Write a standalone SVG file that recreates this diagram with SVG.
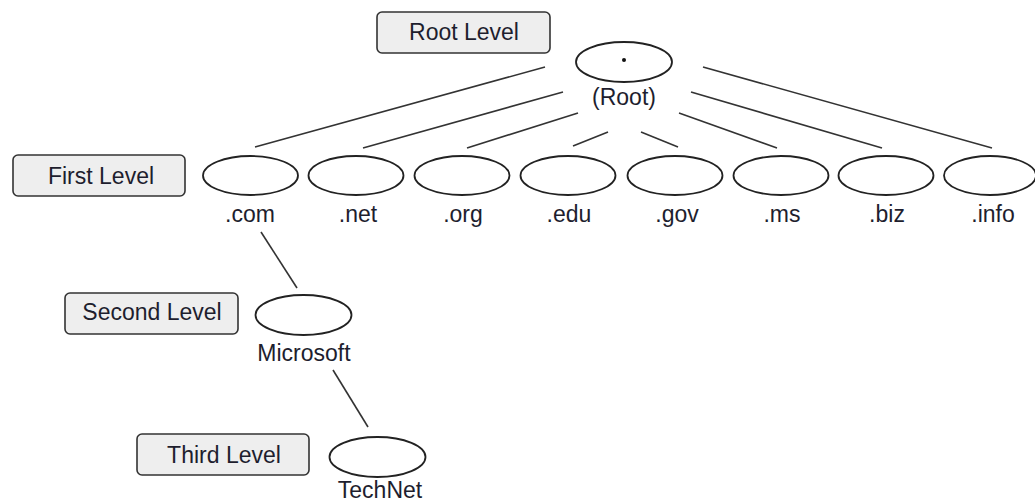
<svg xmlns="http://www.w3.org/2000/svg" width="1035" height="504" viewBox="0 0 1035 504">
<style>
.box{fill:#eeeeee;stroke:#333;stroke-width:1.6}
.node{fill:#fff;stroke:#222;stroke-width:1.8}
.lbl{font-family:"Liberation Sans",Arial,sans-serif;font-size:23px;fill:#1e1e2e;text-anchor:middle}
.conn line{stroke:#333;stroke-width:1.6}
</style>
<rect width="1035" height="504" fill="#fff"/>
<g class="conn" id="connectors">
<line x1="545" y1="67" x2="255" y2="147"/>
<line x1="563" y1="92" x2="363" y2="148"/>
<line x1="578" y1="113" x2="467" y2="148"/>
<line x1="608" y1="132" x2="573" y2="146"/>
<line x1="641" y1="132" x2="678" y2="147"/>
<line x1="679" y1="113" x2="777" y2="148"/>
<line x1="691" y1="92" x2="882" y2="148"/>
<line x1="703" y1="67" x2="992" y2="148"/>
<line x1="261" y1="232" x2="297" y2="288"/>
<line x1="333" y1="370" x2="368" y2="427"/>
</g>
<g id="root-level"><rect class="box" x="377" y="12" width="173" height="41" rx="5"/><text class="lbl" x="464" y="40">Root Level</text></g>
<g id="first-level"><rect class="box" x="13" y="155" width="172" height="41" rx="5"/><text class="lbl" x="101" y="184">First Level</text></g>
<g id="second-level"><rect class="box" x="65" y="293" width="173" height="41" rx="5"/><text class="lbl" x="152" y="320">Second Level</text></g>
<g id="third-level"><rect class="box" x="137" y="434" width="172" height="41" rx="5"/><text class="lbl" x="224" y="463">Third Level</text></g>
<g id="root"><ellipse class="node" cx="624" cy="62" rx="48" ry="20"/><circle cx="624" cy="60" r="2" fill="#111"/><text class="lbl" x="624" y="105">(Root)</text></g>
<g id="com"><ellipse class="node" cx="250.5" cy="175.5" rx="47.5" ry="19.5"/><text class="lbl" x="250" y="222">.com</text></g>
<g id="net"><ellipse class="node" cx="356" cy="175.5" rx="47.5" ry="19.5"/><text class="lbl" x="358" y="222">.net</text></g>
<g id="org"><ellipse class="node" cx="462" cy="175.5" rx="47.5" ry="19.5"/><text class="lbl" x="463" y="222">.org</text></g>
<g id="edu"><ellipse class="node" cx="568" cy="175.5" rx="47.5" ry="19.5"/><text class="lbl" x="569" y="222">.edu</text></g>
<g id="gov"><ellipse class="node" cx="675" cy="175.5" rx="47.5" ry="19.5"/><text class="lbl" x="677" y="222">.gov</text></g>
<g id="ms"><ellipse class="node" cx="781" cy="175.5" rx="47.5" ry="19.5"/><text class="lbl" x="782" y="222">.ms</text></g>
<g id="biz"><ellipse class="node" cx="886" cy="175.5" rx="47.5" ry="19.5"/><text class="lbl" x="887" y="222">.biz</text></g>
<g id="info"><ellipse class="node" cx="990" cy="175.5" rx="46" ry="19.5"/><text class="lbl" x="993" y="222">.info</text></g>
<g id="microsoft"><ellipse class="node" cx="303.5" cy="315" rx="48" ry="20"/><text class="lbl" x="304" y="361">Microsoft</text></g>
<g id="technet"><ellipse class="node" cx="377.5" cy="457" rx="48" ry="20"/><text class="lbl" x="380" y="498">TechNet</text></g>
</svg>
